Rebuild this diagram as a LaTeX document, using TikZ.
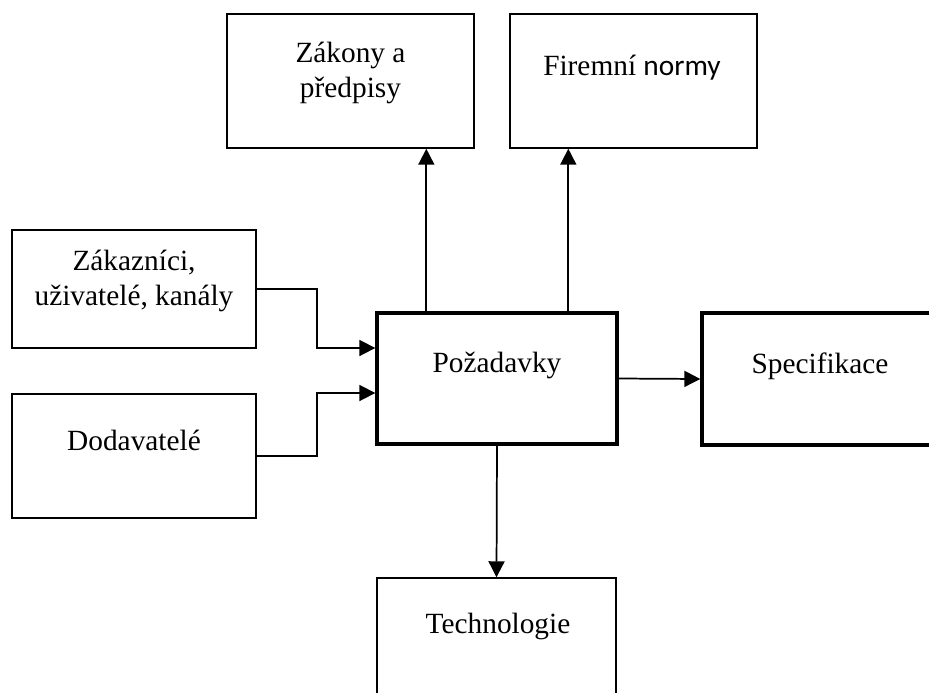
\documentclass[tikz,border=0pt]{standalone}
\usepackage{fontspec}
\setmainfont{Liberation Serif}
\newfontfamily\sansfam{Carlito}
\usetikzlibrary{arrows.meta,calc}
\newcommand{\pxu}{0.75pt}

\begin{document}
\begin{tikzpicture}[x=0.75pt, y=-0.75pt, >={Triangle[length=12pt,width=12pt]},
box/.style={draw, rectangle, inner sep=0pt, line width=1.1pt},
thick box/.style={box, line width=2.5pt},
txt/.style={font=\fontsize{22}{26}\selectfont, align=center, inner sep=0pt, anchor=base},
conn/.style={->, line width=1.3pt}]
\useasboundingbox (0,0) rectangle (929,693);
\clip (0,0) rectangle (929,693);
\begin{scope}
\node[box, minimum width=247*\pxu, minimum height=134*\pxu] (zakony) at (350.5,81) {};
\node[box, minimum width=247*\pxu, minimum height=134*\pxu] (firemni) at (633.5,81) {};
\node[box, minimum width=244*\pxu, minimum height=118*\pxu] (zakaz) at (134,289) {};
\node[box, minimum width=244*\pxu, minimum height=124*\pxu] (dodav) at (134,456) {};
\node[thick box, minimum width=240*\pxu, minimum height=131*\pxu] (pozad) at (497,378.5) {};
\node[thick box, minimum width=236*\pxu, minimum height=132*\pxu] (spec) at (820,379) {};
\node[box, minimum width=239*\pxu, minimum height=131*\pxu] (techn) at (496.5,643.5) {};
\end{scope}
\begin{scope}
\node[txt] (zakonyT) at (350.5,97) {Zákony a\\předpisy};
\node[txt] (firemniT) at (632,75) {Firemní {\sansfam normy}};
\node[txt] (zakazT) at (134,305) {Zákazníci,\\uživatelé, kanály};
\node[txt] (dodavT) at (134,450) {Dodavatelé};
\node[txt] (pozadT) at (497,372) {Požadavky};
\node[txt] (specT) at (820,373) {Specifikace};
\node[txt] (technT) at (498,633) {Technologie};
\end{scope}
\begin{scope}
\draw[conn] (zakaz.east) -- ++(60,0) |- ($(pozad.west)+(0,-30.5)$);
\draw[conn] (dodav.east) -- ++(60,0) |- ($(pozad.west)+(0,14.5)$);
\draw[conn] ($(pozad.north west)+(51,0)$) coordinate (up1) -- (up1 |- zakony.south);
\draw[conn] ($(pozad.north west)+(193,0)$) coordinate (up2) -- (up2 |- firemni.south);
\draw[conn] (pozad.east) -- (spec.west);
\draw[conn] (pozad.south) -- (techn.north);
\end{scope}
\end{tikzpicture}
\end{document}
